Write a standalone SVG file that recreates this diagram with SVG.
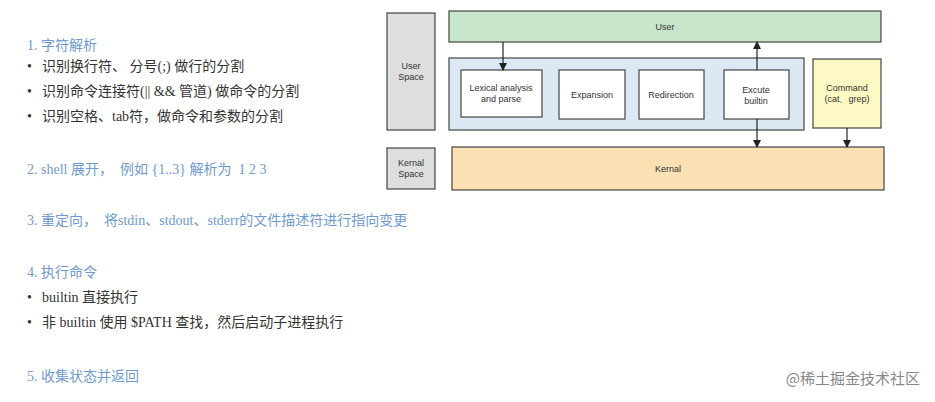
<svg xmlns="http://www.w3.org/2000/svg" width="935" height="402" viewBox="0 0 935 402">
<style>
.h{font:14px "Liberation Serif","Noto Sans CJK SC",serif;fill:#6f9ad0}
.b{font:14px "Liberation Serif","Noto Sans CJK SC",serif;fill:#333}
.n{font:9px "Liberation Sans",sans-serif;fill:#333;text-anchor:middle}
.box{stroke:#444;stroke-width:1.2}
.c{stroke:#222;stroke-width:1.2;fill:none;marker-end:url(#a)}
</style>
<defs><marker id="a" markerWidth="8" markerHeight="8" refX="7" refY="4" orient="auto" markerUnits="userSpaceOnUse"><path d="M0,0L8,4L0,8z" fill="#222"/></marker></defs>
<rect width="935" height="402" fill="#fff"/>
<g id="text">
<text class="h" x="27" y="50">1. 字符解析</text>
<text class="b" x="27" y="71">•</text><text class="b" x="42" y="71">识别换行符、 分号(;) 做行的分割</text>
<text class="b" x="27" y="96">•</text><text class="b" x="42" y="96">识别命令连接符(|| &amp;&amp; 管道) 做命令的分割</text>
<text class="b" x="27" y="121">•</text><text class="b" x="42" y="121">识别空格、tab符，做命令和参数的分割</text>
<text class="h" x="27" y="174" xml:space="preserve">2. shell 展开，  例如 {1..3} 解析为  1 2 3</text>
<text class="h" x="27" y="225" xml:space="preserve">3. 重定向，  将stdin、stdout、stderr的文件描述符进行指向变更</text>
<text class="h" x="27" y="277">4. 执行命令</text>
<text class="b" x="27" y="302">•</text><text class="b" x="42" y="302">builtin 直接执行</text>
<text class="b" x="27" y="327">•</text><text class="b" x="42" y="327">非 builtin 使用 $PATH 查找，然后启动子进程执行</text>
<text class="h" x="27" y="381">5. 收集状态并返回</text>
<text x="920" y="384" text-anchor="end" style="font:15px 'Noto Sans CJK SC',sans-serif;fill:#888">@稀土掘金技术社区</text>
</g>
<g id="userspace"><rect class="box" x="387" y="13" width="48" height="117" fill="#dedede"/><text class="n" x="411" y="69">User</text><text class="n" x="411" y="80">Space</text></g>
<g id="kernalspace"><rect class="box" x="387" y="148" width="48" height="41" fill="#dedede"/><text class="n" x="411" y="166">Kernal</text><text class="n" x="411" y="177">Space</text></g>
<g id="user"><rect class="box" x="449" y="11" width="432" height="31" fill="#c8e6ca"/><text class="n" x="665" y="30">User</text></g>
<g id="shell"><rect class="box" x="449" y="58" width="355" height="72" fill="#dce8f3"/></g>
<g id="lexical"><rect class="box" x="461" y="70" width="81" height="47" fill="#fff"/><text class="n" x="501" y="91">Lexical analysis</text><text class="n" x="501" y="102">and parse</text></g>
<g id="expansion"><rect class="box" x="559" y="70" width="66" height="49" fill="#fff"/><text class="n" x="592" y="98">Expansion</text></g>
<g id="redirection"><rect class="box" x="639" y="70" width="65" height="49" fill="#fff"/><text class="n" x="671" y="98">Redirection</text></g>
<g id="builtin"><rect class="box" x="724" y="70" width="65" height="49" fill="#fff"/><text class="n" x="756" y="93">Excute</text><text class="n" x="756" y="104">builtin</text></g>
<g id="command"><rect class="box" x="813" y="59" width="68" height="69" fill="#fdf9c4"/><text class="n" x="847" y="91">Command</text><text class="n" x="847" y="102">(cat、grep)</text></g>
<g id="kernal"><rect class="box" x="452" y="147" width="432" height="43" fill="#fbe0b4"/><text class="n" x="668" y="172">Kernal</text></g>
<g id="connectors">
<path class="c" d="M503,42V70"/>
<path class="c" d="M757,70V42"/>
<path class="c" d="M757,119V147"/>
<path class="c" d="M847,128V147"/>
</g>
</svg>
